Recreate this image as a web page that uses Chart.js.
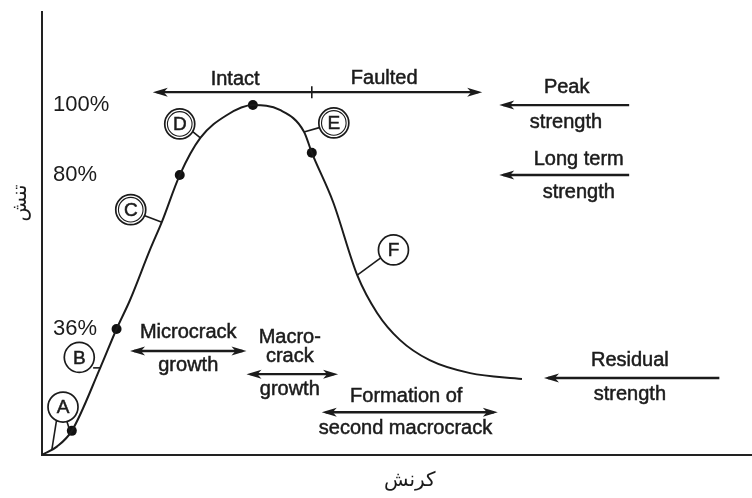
<!DOCTYPE html>
<html>
<head>
<meta charset="utf-8">
<script src="https://cdn.jsdelivr.net/npm/chart.js@4.4.1/dist/chart.umd.min.js"></script>
<style>
  html, body { margin: 0; padding: 0; background: #fff; }
  #wrap { width: 752px; height: 498px; }
</style>
</head>
<body>
<div id="wrap"><canvas id="stressStrain"></canvas></div>
<script>
// stress-strain curve (strain in arbitrary units, stress in % of peak)
const strain = [0, 2.1, 4.2, 8.2, 10.5, 12.4, 15.2, 16.9, 19.4, 22.3, 26.0, 29.7, 33.5, 36.9, 38.0, 41.0, 44.4, 47.2, 50.4, 54.6, 60.3, 67.6];
const stress = [0, 2.4, 6.9, 24.9, 36, 44.3, 58.6, 66.7, 80, 90.6, 97.1, 100, 98.6, 92.4, 86.4, 72.3, 51.4, 40.6, 32.9, 27.1, 23.4, 21.7];

// black dots on the curve
const markStrain = [4.2, 10.5, 19.4, 29.7, 38.0];
const markStress = [6.9, 36, 80, 100, 86.4];

// stress levels shown at the left
const stressTicks = [100, 80, 36];

// stage letters
const stageLetters = ["A", "B", "C", "D", "E", "F"];

const yTitle = "تنش";
const xTitle = "کرنش";

// where the notes sit, in data units
const letterSpots = [[2.96, 13.7], [5.25, 27.9], [12.5, 70.1], [19.4, 94.6], [41.1, 94.9], [49.5, 58.6]];
const letterRings = [1, 1, 2, 2, 2, 1];
const leaders = [
  [2.1, 10.6, 1.4, 1.7],
  [3.4, 10.3, 3.9, 7.1],
  [7.2, 24.9, 8.2, 24.9],
  [14.2, 68.6, 16.8, 66.6],
  [21.1, 92.6, 22.3, 90.6],
  [39.3, 93.7, 36.9, 92.3],
  [47.9, 56.6, 44.4, 51.4]
];
const arrows = [
  { y: 103.7, from: 15.6, to: 62.0, heads: "both", tick: 38.0 },
  { y: 100, from: 64.4, to: 82.7, heads: "left" },
  { y: 80, from: 64.4, to: 82.7, heads: "left" },
  { y: 29.7, from: 12.4, to: 28.8, heads: "both" },
  { y: 23.1, from: 28.8, to: 41.7, heads: "both" },
  { y: 12.2, from: 39.4, to: 64.2, heads: "both" },
  { y: 22.0, from: 70.7, to: 95.4, heads: "left" }
];
const notes = [
  ["Intact", 27.2, 107.4], ["Faulted", 48.2, 107.7],
  ["Peak", 73.9, 104.9], ["strength", 73.8, 94.9],
  ["Long term", 75.6, 84.5], ["strength", 75.6, 74.9],
  ["Microcrack", 20.6, 34.9], ["growth", 20.6, 25.7],
  ["Macro-", 34.9, 33.7], ["crack", 34.9, 28.1], ["growth", 34.9, 18.6],
  ["Formation of", 51.3, 16.7], ["second macrocrack", 51.2, 7.6],
  ["Residual", 82.8, 27.1], ["strength", 82.8, 17.4]
];

const ink = "#1b1b1b";
const sans = "'Liberation Sans', Arial, sans-serif";

function arrowHead(ctx, x, y, dir) {
  ctx.beginPath();
  ctx.moveTo(x, y);
  ctx.lineTo(x - dir * 15, y - 4.5);
  ctx.lineTo(x - dir * 11, y);
  ctx.lineTo(x - dir * 15, y + 4.5);
  ctx.closePath();
  ctx.fill();
}

// slightly heavy text, like the printed figure
function inkText(ctx, t, x, y) {
  ctx.lineWidth = 0.5;
  ctx.strokeText(t, x, y);
  ctx.fillText(t, x, y);
}

// draws letters, leaders, arrows, notes and the axis titles
const diagramNotes = {
  id: "diagramNotes",
  afterDraw(chart) {
    const ctx = chart.ctx;
    const xs = chart.scales.x;
    const ys = chart.scales.y;
    const px = v => xs.getPixelForValue(v);
    const py = v => ys.getPixelForValue(v);
    const area = chart.chartArea;

    ctx.save();
    ctx.strokeStyle = ink;
    ctx.fillStyle = ink;

    // leader lines
    ctx.lineWidth = 1.6;
    leaders.forEach(l => {
      ctx.beginPath();
      ctx.moveTo(px(l[0]), py(l[1]));
      ctx.lineTo(px(l[2]), py(l[3]));
      ctx.stroke();
    });

    // circled letters
    stageLetters.forEach((t, i) => {
      const cx = px(letterSpots[i][0]);
      const cy = py(letterSpots[i][1]);
      ctx.fillStyle = "#fff";
      ctx.beginPath();
      ctx.arc(cx, cy, 15, 0, Math.PI * 2);
      ctx.fill();
      ctx.lineWidth = 1.7;
      ctx.stroke();
      if (letterRings[i] > 1) {
        ctx.lineWidth = 1.1;
        ctx.beginPath();
        ctx.arc(cx, cy, 12.3, 0, Math.PI * 2);
        ctx.stroke();
      }
      ctx.fillStyle = ink;
      ctx.font = "19px " + sans;
      ctx.textAlign = "center";
      ctx.textBaseline = "middle";
      inkText(ctx, t, cx, cy + 1);
    });

    // arrows
    arrows.forEach(a => {
      const y = py(a.y);
      const x1 = px(a.from);
      const x2 = px(a.to);
      ctx.lineWidth = 2.4;
      ctx.beginPath();
      ctx.moveTo(x1 + 4, y);
      ctx.lineTo(a.heads === "both" ? x2 - 4 : x2, y);
      ctx.stroke();
      arrowHead(ctx, x1, y, -1);
      if (a.heads === "both") arrowHead(ctx, x2, y, 1);
      if (a.tick !== undefined) {
        ctx.lineWidth = 1.6;
        ctx.beginPath();
        ctx.moveTo(px(a.tick), y - 6);
        ctx.lineTo(px(a.tick), y + 6);
        ctx.stroke();
      }
    });

    // text notes
    ctx.font = "20px " + sans;
    ctx.textAlign = "center";
    ctx.textBaseline = "middle";
    notes.forEach(n => inkText(ctx, n[0], px(n[1]), py(n[2])));

    // axis titles
    ctx.font = "20px 'DejaVu Sans', sans-serif";
    ctx.fillText(xTitle, px(51.8), area.bottom + 26);
    ctx.translate(area.left - 21, py(72));
    ctx.rotate(-Math.PI / 2);
    ctx.fillText(yTitle, 0, 0);
    ctx.restore();
  }
};

new Chart(document.getElementById("stressStrain"), {
  type: "scatter",
  data: {
    datasets: [
      {
        data: strain.map((s, i) => ({ x: s, y: stress[i] })),
        showLine: true,
        borderColor: ink,
        borderWidth: 2,
        pointRadius: 0,
        cubicInterpolationMode: "monotone"
      },
      {
        data: markStrain.map((s, i) => ({ x: s, y: markStress[i] })),
        pointRadius: 5,
        pointBackgroundColor: "#111",
        pointBorderWidth: 0
      }
    ]
  },
  options: {
    responsive: true,
    maintainAspectRatio: false,
    animation: false,
    layout: { autoPadding: false, padding: { left: 20, top: 12, right: 0, bottom: 43 } },
    plugins: {
      legend: { display: false },
      tooltip: { enabled: false }
    },
    scales: {
      x: {
        type: "linear",
        min: 0,
        max: 100,
        ticks: { display: false },
        grid: { display: false, drawTicks: false },
        border: { display: true, color: "#222", width: 2 }
      },
      y: {
        type: "linear",
        min: 0,
        max: 126.6,
        afterBuildTicks: axis => { axis.ticks = stressTicks.map(v => ({ value: v })); },
        // labels sit inside the plot, so they need no room above the axis
        afterFit: axis => { axis.paddingTop = 0; axis.paddingBottom = 0; },
        ticks: {
          mirror: true,
          padding: 11,
          autoSkip: false,
          color: ink,
          font: { family: sans, size: 22 },
          callback: v => v + "%"
        },
        grid: { display: false, drawTicks: false },
        border: { display: true, color: "#222", width: 2 }
      }
    }
  },
  plugins: [diagramNotes]
});
</script>
</body>
</html>
